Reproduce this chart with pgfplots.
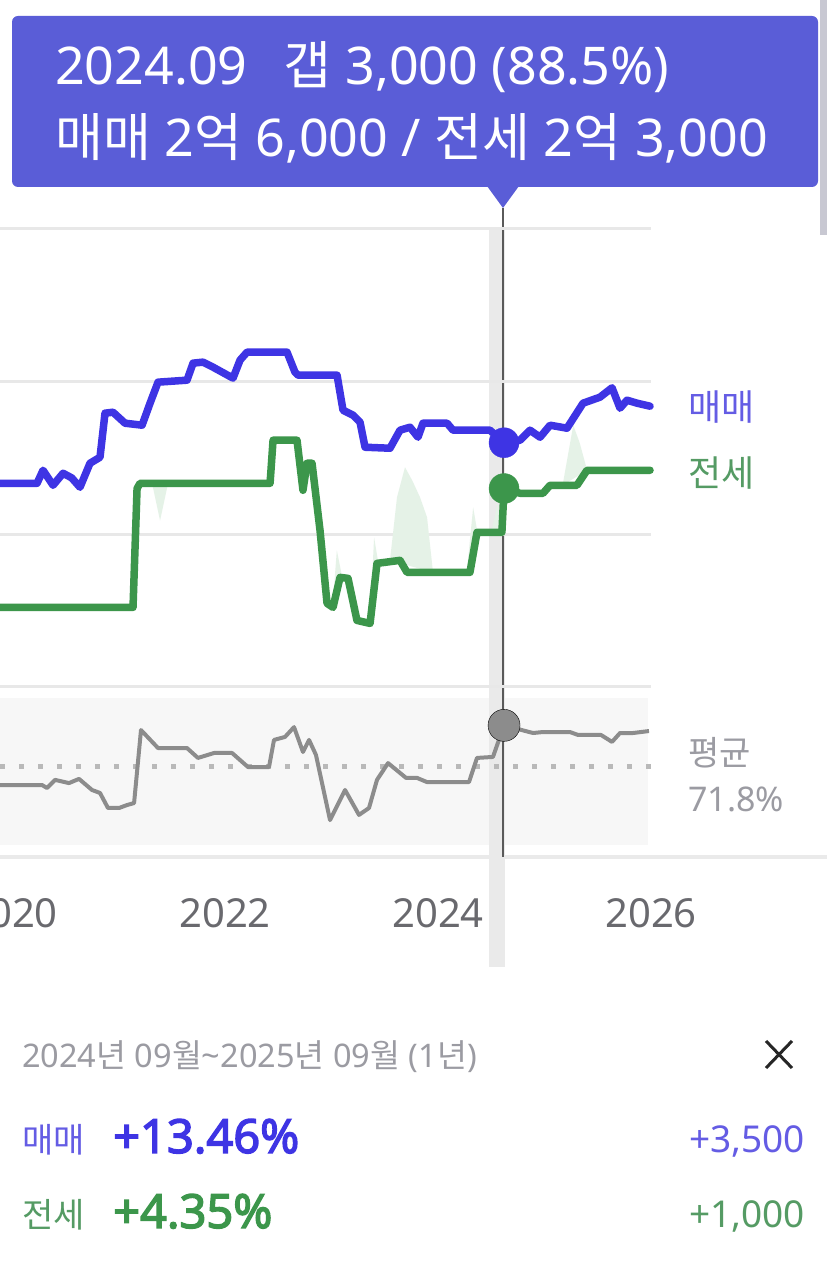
\documentclass[border=0pt]{standalone}
\usepackage{fontspec}
\setmainfont{Noto Sans}
\newfontfamily\krfont{Noto Sans CJK KR}
\newfontfamily\bnum[FakeBold=3]{Noto Sans}
\newcommand{\K}[1]{{\krfont #1}}
\usepackage{pgfplots}
\pgfplotsset{compat=1.18}
\definecolor{blueL}{RGB}{62,52,228}
\definecolor{blueT}{RGB}{100,92,228}
\definecolor{greenL}{RGB}{60,150,75}
\definecolor{greenT}{RGB}{85,155,100}
\definecolor{tipc}{RGB}{90,93,215}
\definecolor{gridc}{RGB}{232,232,232}
\definecolor{panelc}{RGB}{247,247,247}
\definecolor{bandc}{RGB}{234,234,234}
\definecolor{basec}{RGB}{234,234,234}
\definecolor{cursorc}{RGB}{90,90,90}
\definecolor{ratioc}{RGB}{140,140,140}
\definecolor{avgc}{RGB}{185,185,185}
\definecolor{labelg}{RGB}{155,155,162}
\definecolor{tickc}{RGB}{105,105,110}
\definecolor{spikec}{RGB}{229,242,231}
\definecolor{edgec}{RGB}{200,200,210}
\begin{document}
\begin{tikzpicture}
\begin{scope}[x=1pt,y=1pt]
\fill[white] (0,0) rectangle (827,1286);
% ratio panel background
\fill[panelc] (0,441) rectangle (648,588);
% baseline
\draw[basec, line width=4pt] (0,429) -- (827,429);
% cursor band
\fill[bandc] (489,319) rectangle (505,1057);
% right edge bar
\fill[edgec] (820,1051) rectangle (827,1286);
% tooltip
\fill[tipc, rounded corners=6pt] (12,1099) rectangle (818,1270);
\fill[tipc] (487,1100) -- (519,1100) -- (503,1078) -- cycle;
\node[anchor=base west, text=white, font=\fontsize{52}{52}\selectfont, inner sep=0pt] at (55,1201) {2024.09\hspace*{0.7em}\K{갭} 3,000 (88.5\%)};
\node[anchor=base west, text=white, font=\fontsize{52}{52}\selectfont, inner sep=0pt] at (55,1129) {\K{매매} 2\K{억} 6,000 / \K{전세} 2\K{억} 3,000};
% cursor line
\draw[cursorc, line width=2.5pt] (503,1078) -- (503,429);
\end{scope}

% price panel
\begin{axis}[at={(0pt,599pt)}, anchor=south west, scale only axis,
  width=651pt, height=458pt,
  xmin=2019.887, xmax=2026, ymin=10000, ymax=40000,
  clip=false, axis line style={draw=none},
  xtick=\empty, ytick={10000,20000,30000,40000}, yticklabels={},
  scaled y ticks=false, ymajorgrids,
  major grid style={gridc, line width=3pt},
  tick style={draw=none}]
% light green spikes
\addplot[fill=spikec, draw=none] coordinates {(2021.315,23344) (2021.39,20900) (2021.465,23344)} -- cycle;
\addplot[fill=spikec, draw=none] coordinates {(2023.01,15300) (2023.05,18950) (2023.10,17200)} -- cycle;
\addplot[fill=spikec, draw=none] coordinates {(2023.36,14200) (2023.40,19800) (2023.44,18100)} -- cycle;
\addplot[fill=spikec, draw=none] coordinates {(2023.549,18295) (2023.615,22426) (2023.690,24393) (2023.760,23500) (2023.831,22426) (2023.897,21115) (2023.953,17508)} -- cycle;
\addplot[fill=spikec, draw=none] coordinates {(2024.27,17508) (2024.33,21770) (2024.37,20131)} -- cycle;
\addplot[fill=spikec, draw=none] coordinates {(2024.50,20131) (2024.56,22033) (2024.60,20131)} -- cycle;
\addplot[fill=spikec, draw=none] coordinates {(2025.17,23213) (2025.27,27148) (2025.33,26000) (2025.40,24197)} -- cycle;
% jeonse (green)
\addplot[greenL, line width=7.5pt, line join=round, line cap=round] coordinates {
(2019.887,15213) (2021.136,15213) (2021.174,23000) (2021.202,23344)
(2022.423,23344) (2022.451,26164) (2022.676,26164) (2022.732,22885)
(2022.770,24656) (2022.817,24656) (2022.892,20262) (2022.958,15475)
(2023.014,15213) (2023.080,17180) (2023.155,17115) (2023.239,14361)
(2023.362,14164) (2023.427,18098) (2023.643,18295) (2023.709,17508)
(2024.300,17508) (2024.366,20131) (2024.600,20131) (2024.620,23000)
(2024.770,22689) (2024.986,22689) (2025.052,23213) (2025.305,23213)
(2025.399,24197) (2025.991,24197)};
% maemae (blue)
\addplot[blueL, line width=7.5pt, line join=round, line cap=round] coordinates {
(2019.887,23344) (2020.235,23344) (2020.291,24197) (2020.385,23213)
(2020.479,24000) (2020.560,23700) (2020.638,23082) (2020.732,24656)
(2020.826,25049) (2020.873,27934) (2020.948,28000) (2021.061,27279)
(2021.221,27148) (2021.296,28590) (2021.371,29967) (2021.643,30098)
(2021.700,31213) (2021.793,31279) (2021.887,30951) (2022.075,30230)
(2022.141,31410) (2022.207,31934) (2022.582,31934) (2022.657,30623)
(2022.685,30426) (2023.052,30426) (2023.108,28131) (2023.202,27803)
(2023.268,27344) (2023.315,25705) (2023.549,25639) (2023.643,26820)
(2023.737,27016) (2023.812,26361) (2023.859,27279) (2024.085,27279)
(2024.141,26820) (2024.488,26820) (2024.620,26000) (2024.770,26164)
(2024.864,26820) (2024.958,26361) (2025.052,27148) (2025.211,26951)
(2025.362,28590) (2025.521,28984) (2025.634,29600) (2025.709,28262)
(2025.775,28787) (2025.869,28590) (2025.991,28393)};
% cursor markers
\addplot[only marks, mark=*, mark size=15pt, blueL, mark options={draw=none, fill=blueL}] coordinates {(2024.62,26000)};
\addplot[only marks, mark=*, mark size=15pt, greenL, mark options={draw=none, fill=greenL}] coordinates {(2024.62,23000)};
\end{axis}

% ratio panel
\begin{axis}[at={(0pt,441pt)}, anchor=south west, scale only axis,
  width=651pt, height=148pt,
  xmin=2019.887, xmax=2026, ymin=40, ymax=100,
  clip=false, axis line style={draw=none},
  ytick=\empty, xtick={2020,2022,2024,2026}, xticklabels={2020,2022,2024,2026},
  tick style={draw=none},
  xticklabel style={anchor=base, yshift=-83pt, font=\fontsize{40}{40}\selectfont, text=tickc}]
\addplot[avgc, line width=4.5pt, dash pattern=on 5pt off 14pt] coordinates {(2019.887,71.8) (2026.04,71.8)};
\addplot[ratioc, line width=4pt, line join=round] coordinates {
(2019.887,64.3) (2020.282,64.3) (2020.329,63.1) (2020.404,66.4)
(2020.535,65.1) (2020.629,66.8) (2020.751,62.3) (2020.826,61.1)
(2020.901,55.0) (2021.005,55.0) (2021.080,56.2) (2021.146,57.0)
(2021.211,86.6) (2021.371,79.3) (2021.643,79.3) (2021.746,75.3)
(2021.897,77.3) (2022.066,77.3) (2022.216,71.6) (2022.413,71.6)
(2022.460,82.6) (2022.563,83.8) (2022.648,87.8) (2022.732,77.7)
(2022.789,82.6) (2022.854,76.5) (2022.986,50.1) (2023.127,62.3)
(2023.258,52.2) (2023.352,55.0) (2023.427,66.4) (2023.531,73.2)
(2023.700,67.2) (2023.803,67.2) (2023.897,65.5) (2024.291,65.5)
(2024.366,75.3) (2024.516,75.7) (2024.620,88.5) (2024.892,85.4)
(2024.986,85.8) (2025.239,85.8) (2025.315,84.6) (2025.531,84.6)
(2025.634,81.8) (2025.709,85.4) (2025.831,85.4) (2025.981,86.2)};
\addplot[only marks, mark=*, mark size=16pt, mark options={draw=none, fill=ratioc}] coordinates {(2024.62,88.5)};
\end{axis}

\begin{scope}[x=1pt,y=1pt]
% right-side labels
\node[anchor=base west, inner sep=0pt, text=blueT, font=\fontsize{36}{36}\krfont] at (688,865) {매매};
\node[anchor=base west, inner sep=0pt, text=greenT, font=\fontsize{36}{36}\krfont] at (688,799) {전세};
\node[anchor=base west, inner sep=0pt, text=labelg, font=\fontsize{34}{34}\krfont] at (688,520) {평균};
\node[anchor=base west, inner sep=0pt, text=labelg, font=\fontsize{34}{34}\selectfont] at (688,474) {71.8\%};

% bottom summary
\node[anchor=base west, inner sep=0pt, text=labelg, font=\fontsize{32.5}{32.5}\selectfont] at (22,218) {2024\K{년} 09\K{월}\textasciitilde 2025\K{년} 09\K{월} (1\K{년})};
\draw[black!85, line width=3pt] (766,245) -- (792,218);
\draw[black!85, line width=3pt] (766,218) -- (792,245);
\node[anchor=base west, inner sep=0pt, text=blueT, font=\fontsize{34}{34}\krfont] at (22,133) {매매};
\node[anchor=base west, inner sep=0pt, text=blueL, font=\fontsize{47}{47}\bnum] at (113,133) {+13.46\%};
\node[anchor=base east, inner sep=0pt, text=blueT, font=\fontsize{37}{37}\selectfont] at (805,133) {+3,500};
\node[anchor=base west, inner sep=0pt, text=greenT, font=\fontsize{34}{34}\krfont] at (22,58) {전세};
\node[anchor=base west, inner sep=0pt, text=greenL, font=\fontsize{47}{47}\bnum] at (113,58) {+4.35\%};
\node[anchor=base east, inner sep=0pt, text=greenT, font=\fontsize{37}{37}\selectfont] at (805,58) {+1,000};
\pgfresetboundingbox
\path[use as bounding box] (0,0) rectangle (827,1286);
\end{scope}
\end{tikzpicture}
\end{document}
